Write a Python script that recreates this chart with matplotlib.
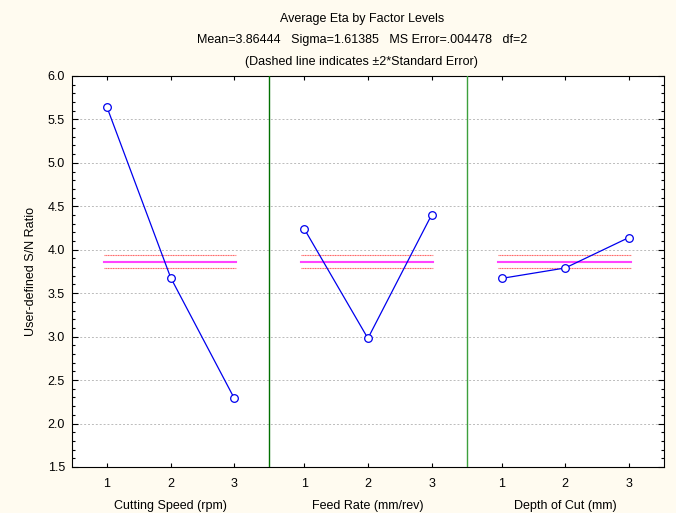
import matplotlib.pyplot as plt
import matplotlib.transforms as mtransforms
import numpy as np

plt.rcParams['font.family'] = ['Liberation Sans', 'DejaVu Sans']

factors = ['Cutting Speed (rpm)', 'Feed Rate (mm/rev)', 'Depth of Cut (mm)']
levels = [1, 2, 3]
eta_speed = [5.64, 3.68, 2.29]
eta_feed = [4.24, 2.98, 4.40]
eta_depth = [3.67, 3.79, 4.14]
grand_mean = 3.86444
ms_error = 0.004478
n_per_level = 3

se2 = 2 * np.sqrt(ms_error / n_per_level)
panel_w = 3.1
series = [eta_speed, eta_feed, eta_depth]
sep_colors = ['#007000', '#3CA03C']

fig = plt.figure(figsize=(6.76, 5.13), dpi=100, facecolor='#FFFBF0')
ax = fig.add_axes([0.1065, 0.0897, 0.8755, 0.7623])
ax.set_facecolor('white')

ticks = []
ticklabels = []
for k, vals in enumerate(series):
    off = panel_w * k
    xs = [l + off for l in levels]
    ticks += xs
    ticklabels += [str(l) for l in levels]
    ax.plot(xs, vals, color='#0000EE', lw=0.9, marker='o', ms=5.5,
            mfc='white', mec='#0000EE', mew=0.9, zorder=5)
    x0, x1 = 0.95 + off, 3.03 + off
    ax.plot([x0, x1], [grand_mean, grand_mean], color='#FF44FF', lw=1.5, zorder=3)
    for s in (-se2, se2):
        ax.plot([x0, x1], [grand_mean + s] * 2, color='#FF6060', lw=0.8,
                ls=(0, (1, 0.5)), zorder=3)
    if k > 0:
        ax.axvline(0.45 + off, color=sep_colors[k - 1], lw=1.0, zorder=4)
    trans = mtransforms.blended_transform_factory(ax.transData, ax.transAxes)
    ax.text(2 + off, -0.1, factors[k], transform=trans, ha='center', va='center',
            fontsize=9)

ax.set_xlim(0.45, 0.45 + 3 * panel_w)
ax.set_ylim(1.5, 6.0)
ax.set_xticks(ticks)
ax.set_xticklabels(ticklabels, fontsize=9)
ax.set_yticks(np.arange(1.5, 6.01, 0.5))
ax.set_yticklabels(['%.1f' % v for v in np.arange(1.5, 6.01, 0.5)], fontsize=9)
ax.set_yticks(np.arange(1.5, 6.01, 0.1), minor=True)
ax.tick_params(axis='y', which='major', direction='in', length=4, right=True, width=0.8, pad=5)
ax.tick_params(axis='y', which='minor', direction='in', length=2, right=True, width=0.8)
ax.tick_params(axis='x', which='major', direction='in', length=3, top=True, pad=8, width=0.8)
ax.grid(axis='y', ls=(0, (2, 2)), color='#BBBBBB', lw=0.7)
for sp in ax.spines.values():
    sp.set_linewidth(0.8)

ax.set_ylabel('User-defined S/N Ratio', fontsize=9, labelpad=8)

fig.text(0.535, 0.963, 'Average Eta by Factor Levels', ha='center', va='center', fontsize=9)
fig.text(0.535, 0.922, 'Mean=3.86444   Sigma=1.61385   MS Error=.004478   df=2',
         ha='center', va='center', fontsize=9)
fig.text(0.535, 0.880, '(Dashed line indicates \u00b12*Standard Error)',
         ha='center', va='center', fontsize=9)

fig.savefig('out.png', dpi=100, facecolor=fig.get_facecolor())
